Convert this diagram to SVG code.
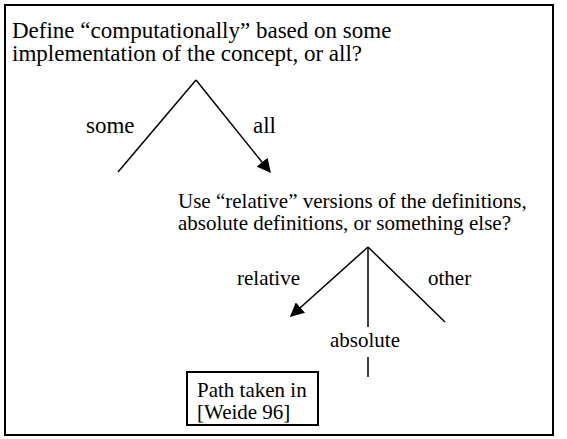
<svg xmlns="http://www.w3.org/2000/svg" width="567" height="439" viewBox="0 0 567 439">
<defs>
<style>
.t{font-family:"Liberation Serif","Times New Roman",Times,serif;font-size:21px;fill:#000}
.big{font-size:23px}
.ln{stroke:#000;stroke-width:1.5;fill:none}
</style>
<marker id="ah" viewBox="0 0 10 10" refX="9" refY="5" markerWidth="14" markerHeight="14" markerUnits="userSpaceOnUse" orient="auto"><path d="M0,0 L10,5 L0,10 z" fill="#000"/></marker>
</defs>
<rect x="5" y="5" width="548" height="430" fill="#fff" stroke="#000" stroke-width="2"/>
<g id="q1" class="t big">
<text x="12" y="38">Define “computationally” based on some</text>
<text x="12" y="61">implementation of the concept, or all?</text>
</g>
<g id="q2" class="t">
<text x="178" y="208">Use “relative” versions of the definitions,</text>
<text x="178" y="230">absolute definitions, or something else?</text>
</g>
<g id="result">
<rect x="187" y="372" width="131" height="53" fill="none" stroke="#000" stroke-width="2"/>
<g class="t">
<text x="197" y="397">Path taken in</text>
<text x="197" y="419">[Weide 96]</text>
</g>
</g>
<g id="connectors">
<line class="ln" x1="196" y1="80" x2="118" y2="172"/>
<line class="ln" x1="196" y1="80" x2="270" y2="172" marker-end="url(#ah)"/>
<line class="ln" x1="368" y1="247" x2="291" y2="316" marker-end="url(#ah)"/>
<line class="ln" x1="368" y1="247" x2="368" y2="327"/>
<line class="ln" x1="368" y1="357" x2="368" y2="377"/>
<line class="ln" x1="368" y1="247" x2="445" y2="322"/>
<g class="t big">
<text x="86" y="133">some</text>
<text x="253" y="133">all</text>
</g>
<g class="t">
<text x="237" y="285">relative</text>
<text x="330" y="347">absolute</text>
<text x="428" y="285">other</text>
</g>
</g>
</svg>
